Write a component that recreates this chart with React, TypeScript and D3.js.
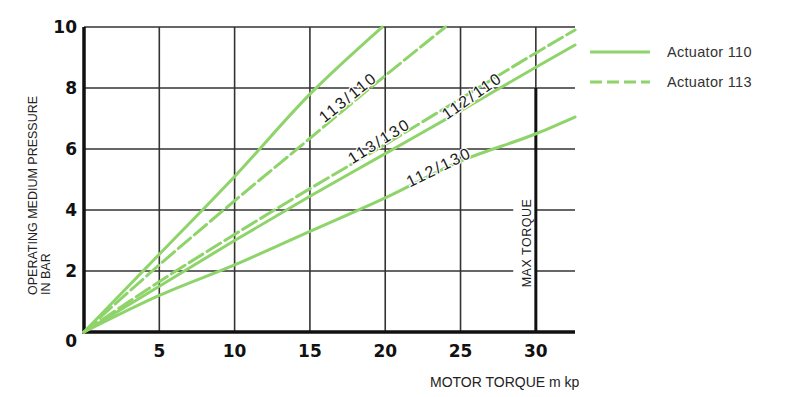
import React, { useRef, useEffect } from "react";
import * as d3 from "d3";

// torque (mkp) vs operating medium pressure (bar)
const torque = [0, 5, 10, 15, 20, 25, 30, 32.6];
const torque113_110 = [0, 5, 10, 15, 19.8];
const p113_110 = [0, 2.55, 5.1, 7.8, 10];
const torque113_130 = [0, 5, 10, 15, 19, 24];
const p113_130 = [0, 2.2, 4.3, 6.35, 8, 10];
const p112_110a = [0, 1.65, 3.2, 4.7, 6.15, 7.65, 9.15, 9.9];
const p112_110b = [0, 1.5, 3.0, 4.45, 5.85, 7.25, 8.68, 9.41];
const p112_130 = [0, 1.2, 2.2, 3.3, 4.4, 5.6, 6.5, 7.05];

const xTicks = [5, 10, 15, 20, 25, 30];
const yTicks = [0, 2, 4, 6, 8, 10];
const gridY = [2, 4, 6, 8];

const labelText = ["113/110", "113/130", "112/110", "112/130"];
const legendText = ["Actuator 110", "Actuator 113"];

const GREEN = "#8ed46a";

type Pt = { x: number; y: number };

const App: React.FC = () => {
  const svgRef = useRef<SVGSVGElement | null>(null);

  useEffect(() => {
    if (!svgRef.current) return;
    const svg = d3.select(svgRef.current);
    svg.selectAll("*").remove();

    const x = d3.scaleLinear().domain([0, 32.6]).range([84, 575]);
    const y = d3.scaleLinear().domain([0, 10]).range([332, 27]);

    const series: { pts: Pt[]; dashed: boolean }[] = [
      { pts: p113_110.map((v, i) => ({ x: torque113_110[i], y: v })), dashed: false },
      { pts: p113_130.map((v, i) => ({ x: torque113_130[i], y: v })), dashed: true },
      { pts: p112_110a.map((v, i) => ({ x: torque[i], y: v })), dashed: true },
      { pts: p112_110b.map((v, i) => ({ x: torque[i], y: v })), dashed: false },
      { pts: p112_130.map((v, i) => ({ x: torque[i], y: v })), dashed: false },
    ];

    // Grid
    const grid = svg.append("g").attr("stroke", "#333").attr("stroke-width", 1.6);
    grid
      .selectAll("line.v")
      .data(xTicks.filter((t) => t < 30))
      .join("line")
      .attr("x1", (d) => x(d))
      .attr("x2", (d) => x(d))
      .attr("y1", y(10))
      .attr("y2", y(0));
    // top border
    grid
      .append("line")
      .attr("x1", x(0))
      .attr("x2", x(32.6))
      .attr("y1", y(10))
      .attr("y2", y(10));
    // horizontal grid, lower two broken around the MAX TORQUE label
    gridY.forEach((g) => {
      if (g < 5) {
        grid
          .append("line")
          .attr("x1", x(0))
          .attr("x2", x(28.5))
          .attr("y1", y(g))
          .attr("y2", y(g));
        grid
          .append("line")
          .attr("x1", x(30))
          .attr("x2", x(32.6))
          .attr("y1", y(g))
          .attr("y2", y(g));
      } else {
        grid
          .append("line")
          .attr("x1", x(0))
          .attr("x2", x(32.6))
          .attr("y1", y(g))
          .attr("y2", y(g));
      }
    });
    // max torque line
    grid
      .append("line")
      .attr("x1", x(30))
      .attr("x2", x(30))
      .attr("y1", y(10))
      .attr("y2", y(8));
    svg
      .append("line")
      .attr("x1", x(30))
      .attr("x2", x(30))
      .attr("y1", y(8))
      .attr("y2", y(0))
      .attr("stroke", "#111")
      .attr("stroke-width", 3);

    // Axes
    svg
      .append("path")
      .attr("d", `M${x(0)},${y(10)}V${y(0)}H${x(32.6)}`)
      .attr("fill", "none")
      .attr("stroke", "#111")
      .attr("stroke-width", 3.5);

    // Lines
    const line = d3
      .line<Pt>()
      .x((d) => x(d.x))
      .y((d) => y(d.y))
      .curve(d3.curveMonotoneX);

    svg
      .append("g")
      .selectAll("path")
      .data(series)
      .join("path")
      .attr("d", (d) => line(d.pts))
      .attr("fill", "none")
      .attr("stroke", GREEN)
      .attr("stroke-width", 3)
      .attr("stroke-linecap", "round")
      .attr("stroke-dasharray", (d) => (d.dashed ? "16,5" : null));

    // Line labels (white halo breaks the lines under the text, as in the print)
    const labels = [
      { x: 17.53, y: 7.7, a: -39 },
      { x: 19.6, y: 6.26, a: -32 },
      { x: 25.76, y: 7.74, a: -35 },
      { x: 23.57, y: 5.41, a: -26 },
    ];
    svg
      .append("g")
      .selectAll("text")
      .data(labels)
      .join("text")
      .attr("transform", (d) => `translate(${x(d.x)},${y(d.y)}) rotate(${d.a})`)
      .attr("text-anchor", "middle")
      .attr("dominant-baseline", "central")
      .attr("font-family", "'Liberation Sans', Arial, sans-serif")
      .attr("font-size", 16)
      .attr("letter-spacing", 2)
      .attr("fill", "#1a1a1a")
      .attr("stroke", "#fff")
      .attr("stroke-width", 2.5)
      .attr("paint-order", "stroke")
      .text((d, i) => labelText[i]);

    // Tick labels
    const tickFont = "'DejaVu Sans', sans-serif";
    svg
      .append("g")
      .selectAll("text")
      .data(xTicks)
      .join("text")
      .attr("x", (d) => x(d))
      .attr("y", 357)
      .attr("text-anchor", "middle")
      .attr("font-family", tickFont)
      .attr("font-weight", 700)
      .attr("font-size", 17)
      .attr("fill", "#111")
      .text((d) => d);
    svg
      .append("g")
      .selectAll("text")
      .data(yTicks)
      .join("text")
      .attr("x", 77)
      .attr("y", (d) => (d === 0 ? y(d) + 15 : y(d) + 6))
      .attr("text-anchor", "end")
      .attr("font-family", tickFont)
      .attr("font-weight", 700)
      .attr("font-size", 17)
      .attr("fill", "#111")
      .text((d) => d);

    // Axis titles
    const titleFont = "'Liberation Sans', Arial, sans-serif";
    const yt = svg
      .append("text")
      .attr("transform", "translate(37,295) rotate(-90)")
      .attr("font-family", titleFont)
      .attr("font-size", 12.5)
      .attr("fill", "#222");
    yt.append("tspan").attr("x", 0).attr("dy", 0).text("OPERATING MEDIUM PRESSURE");
    yt.append("tspan").attr("x", 0).attr("dy", 13).text("IN BAR");

    svg
      .append("text")
      .attr("x", 430)
      .attr("y", 387)
      .attr("font-family", titleFont)
      .attr("font-size", 14)
      .attr("fill", "#222")
      .text("MOTOR TORQUE m kp");

    svg
      .append("text")
      .attr("transform", `translate(${x(30) - 5},243) rotate(-90)`)
      .attr("text-anchor", "middle")
      .attr("font-family", titleFont)
      .attr("font-size", 12.5)
      .attr("letter-spacing", 0.5)
      .attr("fill", "#222")
      .text("MAX TORQUE");

    // Legend
    const legend = svg
      .append("g")
      .selectAll("g")
      .data(legendText)
      .join("g")
      .attr("transform", (d, i) => `translate(590,${52 + i * 30})`);
    legend
      .append("line")
      .attr("x1", 0)
      .attr("x2", 60)
      .attr("stroke", GREEN)
      .attr("stroke-width", 3)
      .attr("stroke-dasharray", (d, i) => (i === 1 ? "12,5" : null));
    legend
      .append("text")
      .attr("x", 77)
      .attr("dy", "0.35em")
      .attr("font-family", titleFont)
      .attr("font-size", 14.5)
      .attr("letter-spacing", 0.3)
      .attr("fill", "#333")
      .text((d) => d);
  }, []);

  return (
    <svg
      ref={svgRef}
      width={800}
      height={397}
      style={{ position: "absolute", left: 0, top: 0, background: "#fff" }}
    />
  );
};

export default App;
